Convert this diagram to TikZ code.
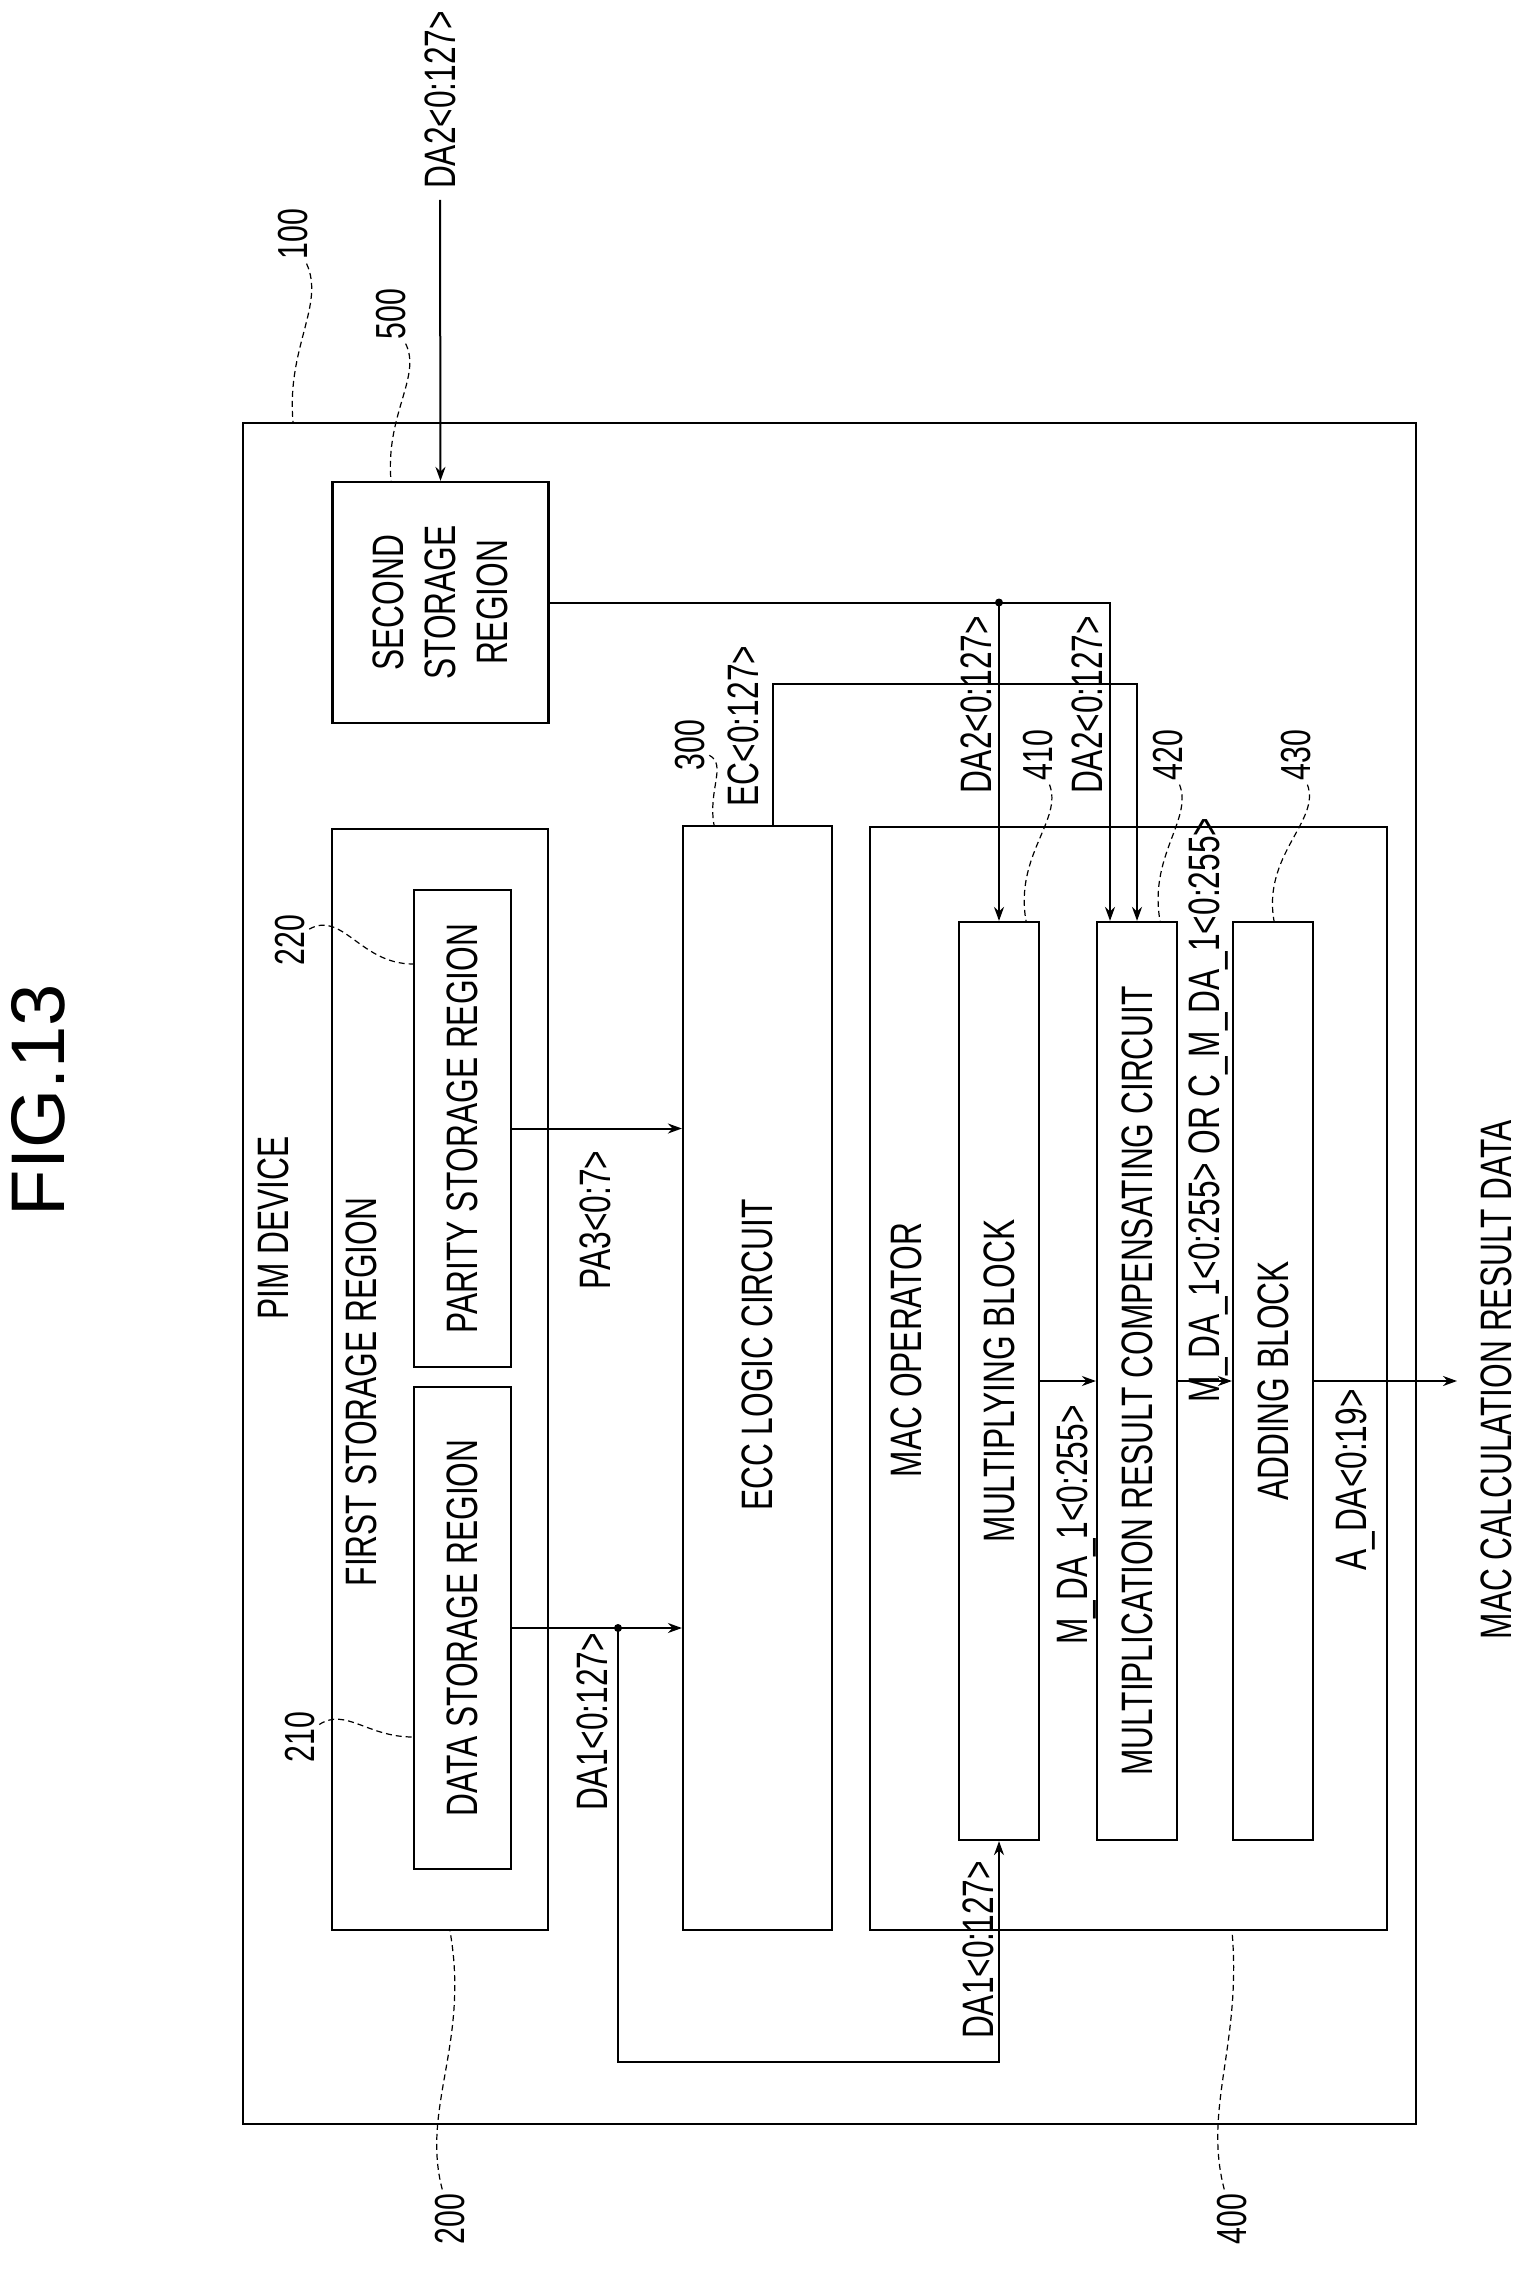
\documentclass[tikz,border=0pt]{standalone}
\usepackage{fontspec}
\setmainfont[FakeStretch=0.72]{Liberation Sans}
\newfontfamily\figfont{Liberation Sans}
\usetikzlibrary{arrows.meta, positioning}

\begin{document}
\begin{tikzpicture}[x=0.5pt, y=-0.5pt,
    box/.style={rectangle, draw, line width=1.1pt, inner sep=0pt},
    txt/.style={rotate=90, font=\fontsize{22}{26}\selectfont, align=center, inner sep=1pt},
    num/.style={rotate=90, font=\fontsize{21}{24}\selectfont, inner sep=2pt},
    arr/.style={line width=1pt, -{Stealth[length=7pt, width=5pt]}},
    lead/.style={line width=0.6pt, densely dashed},
    dot/.style={circle, fill, inner sep=0pt, minimum size=4pt}]
    \useasboundingbox (0,0) rectangle (1525,2294);

    % Title
    \node[rotate=90, font=\figfont\fontsize{38}{40}\selectfont] (title) at (38,1100) {FIG.13};

    % Blocks
    \node[box, minimum width=586.5pt, minimum height=850.5pt] (pim) at (829.5,1273.5) {};
    \node[box, minimum width=108pt, minimum height=120.5pt] (second) at (440.5,602.5) {};
    \node[box, minimum width=108pt, minimum height=550.5pt] (first) at (440,1379.5) {};
    \node[box, minimum width=48.5pt, minimum height=241pt] (data) at (462.5,1628) {};
    \node[box, minimum width=48.5pt, minimum height=238.5pt] (parity) at (462.5,1128.5) {};
    \node[box, minimum width=74.5pt, minimum height=552pt] (ecc) at (757.5,1378) {};
    \node[box, minimum width=258.5pt, minimum height=551.5pt] (mac) at (1128.5,1378.5) {};
    \node[box, minimum width=40pt, minimum height=459pt] (mult) at (999,1381) {};
    \node[box, minimum width=40pt, minimum height=459pt] (comp) at (1137,1381) {};
    \node[box, minimum width=40pt, minimum height=459pt] (add) at (1273,1381) {};

    % Block texts
    \node[txt] at (273,1228) {PIM DEVICE};
    \node[txt] at (361,1392) {FIRST STORAGE REGION};
    \node[txt] at (second) {SECOND\\STORAGE\\REGION};
    \node[txt] at (data) {DATA STORAGE REGION};
    \node[txt] at (parity) {PARITY STORAGE REGION};
    \node[txt] at (757.5,1355) {ECC LOGIC CIRCUIT};
    \node[txt] at (906,1350) {MAC OPERATOR};
    \node[txt] at (mult) {MULTIPLYING BLOCK};
    \node[txt] at (comp) {MULTIPLICATION RESULT COMPENSATING CIRCUIT};
    \node[txt] at (add) {ADDING BLOCK};

    % Reference numbers
    \node[num] (n100) at (293,234) {100};
    \node[num] (n500) at (391,314) {500};
    \node[num] (n200) at (450,2219) {200};
    \node[num] (n210) at (300,1737) {210};
    \node[num] (n220) at (290,940) {220};
    \node[num] (n300) at (690,745) {300};
    \node[num] (n410) at (1038,755) {410};
    \node[num] (n420) at (1168,755) {420};
    \node[num] (n430) at (1296,755) {430};
    \node[num] (n400) at (1232,2219) {400};

    \draw[lead] (n100) to[out=-80, in=95] (n100 |- pim.north);
    \draw[lead] (n500) to[out=-80, in=95] (n500 |- second.north);
    \draw[lead] (n200) to[out=95, in=-80] (n200 |- first.south);
    \draw[lead] (n210) to[out=0, in=180] (n210 -| data.west);
    \draw[lead] (n220) to[out=0, in=180] ([yshift=-12pt]n220 -| parity.west);
    \draw[lead] (n300) to[out=-60, in=100] ([xshift=12pt]n300 |- ecc.north);
    \draw[lead] (n410) to[out=-85, in=100] ([xshift=-6pt]n410 |- mult.north);
    \draw[lead] (n420) to[out=-85, in=100] ([xshift=-4pt]n420 |- comp.north);
    \draw[lead] (n430) to[out=-85, in=100] ([xshift=-11pt]n430 |- add.north);
    \draw[lead] (n400) to[out=95, in=-85] (n400 |- mac.south);

    % Connections
    \coordinate (da2in) at (440,200);
    \draw[arr] (da2in) -- (second.north);
    \node[txt] at (440,100) {DA2<0:127>};

    \coordinate (da2j) at (second.east -| mult.north);
    \draw[arr] (second.east) -| ([xshift=-13.5pt]comp.north);
    \draw[arr] (da2j) -- (mult.north);
    \node[dot] at (da2j) {};
    \node[txt] at (976,705) {DA2<0:127>};
    \node[txt] at (1087,705) {DA2<0:127>};

    \draw[arr] ([xshift=7.75pt]ecc.north) -- ++(0,-141) -| (comp.north);
    \node[txt] at (743,726) {EC<0:127>};

    \draw[arr] (parity.east) -- (parity.east -| ecc.west);
    \node[txt] at (595,1220) {PA3<0:7>};

    \coordinate (da1x) at (618,0);
    \coordinate (da1j) at (data.east -| da1x);
    \draw[arr] (data.east) -- (data.east -| ecc.west);
    \draw[arr] (da1j) -- ++(0,434) -| (mult.south);
    \node[dot] at (da1j) {};
    \node[txt] at (592,1722) {DA1<0:127>};
    \node[txt] at (978,1950) {DA1<0:127>};

    \draw[arr] (mult.east) -- (comp.west);
    \node[txt] at (1076,1525) {M\_DA\_1<0:255>};

    \draw[arr] (comp.east) -- (add.west);
    \node[txt] at (1208,1110) {M\_DA\_1<0:255> OR C\_M\_DA\_1<0:255>};

    \coordinate (macout) at (1457,1381);
    \draw[arr] (add.east) -- (macout);
    \node[txt] at (1355,1480) {A\_DA<0:19>};
    \node[txt] at (1496,1380) {MAC CALCULATION RESULT DATA};
\end{tikzpicture}
\end{document}
